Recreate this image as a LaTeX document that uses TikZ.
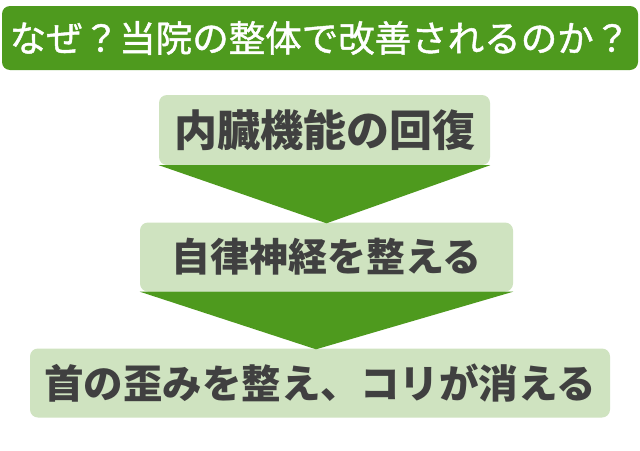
\documentclass[tikz,border=0pt]{standalone}
\usepackage{fontspec}
\newfontfamily\jpfont{Noto Sans CJK JP}
\newfontfamily\jpmid{Noto Sans CJK JP}[FakeBold=1.2]
\definecolor{leafgreen}{RGB}{78,154,30}
\definecolor{palegreen}{RGB}{207,227,192}
\definecolor{inkgray}{RGB}{64,64,64}
\tikzset{
  titlebox/.style={fill=leafgreen, rounded corners=8pt, inner sep=0pt, text=white,
    font=\jpmid\fontsize{36.5}{36.5}\selectfont},
  stepbox/.style={fill=palegreen, rounded corners=8pt, inner sep=0pt, text=inkgray,
    font=\jpfont\bfseries\fontsize{39.5}{39.5}\selectfont},
  funnel/.style={fill=leafgreen}
}
\begin{document}
\begin{tikzpicture}[x=1pt, y=-1pt]
    \useasboundingbox[fill=white] (0,0) rectangle (640,450);
	% heading
	\node[titlebox, minimum width=636pt, minimum height=64pt] (title) at (320,38) {なぜ？当院の整体で改善されるのか？};
	% steps
	\node[stepbox, minimum width=331pt, minimum height=70pt, font=\jpfont\bfseries\fontsize{43}{43}\selectfont] (organ) at (324.5,130) {内臓機能の回復};
	\node[stepbox, minimum width=373pt, minimum height=69pt, font=\jpfont\bfseries\fontsize{39}{39}\selectfont] (nerve) at (326.5,257) {自律神経を整える};
	\node[stepbox, minimum width=580pt, minimum height=69pt] (neck) at (320,383) {首の歪みを整え、コリが消える};
	% arrows between the steps
	\fill[funnel] (organ.south west) -- (organ.south east) -- ([yshift=-1pt]nerve.north) -- cycle;
	\fill[funnel] (nerve.south west) -- (nerve.south east) -- ([xshift=-4pt,yshift=-1pt]neck.north) -- cycle;
\end{tikzpicture}
\end{document}
